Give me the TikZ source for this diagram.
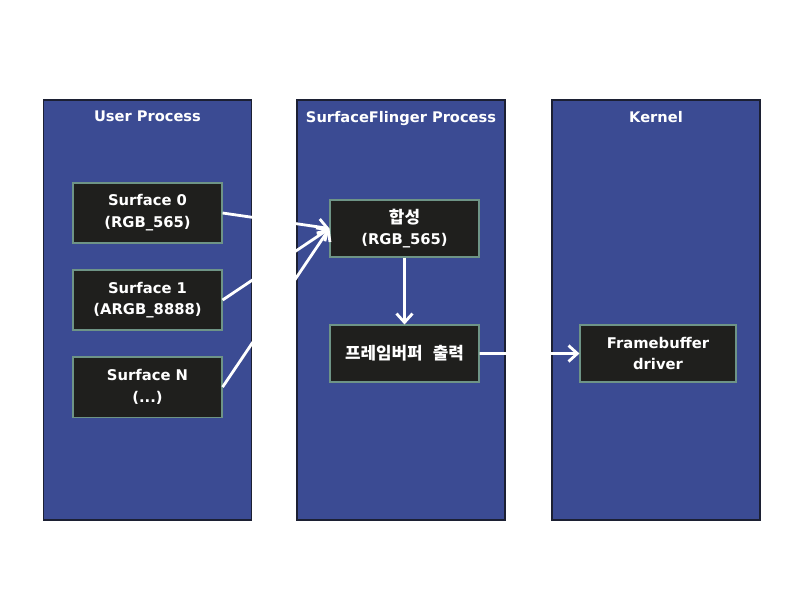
\documentclass[tikz,border=0pt]{standalone}
\usepackage{fontspec}
\setmainfont{DejaVu Sans}
\newfontfamily\kr{Noto Sans CJK KR Bold}
\usepackage{tikz}
\usetikzlibrary{positioning, arrows, arrows.meta}
\definecolor{panelblue}{HTML}{3B4B93}
\definecolor{panelline}{HTML}{1C2033}
\definecolor{boxfill}{HTML}{1F1F1D}
\definecolor{boxline}{HTML}{6E9486}
\tikzstyle{panel} = [rectangle, minimum width=5.2cm, minimum height=10.5cm, fill=panelblue, draw=panelline, line width=1pt]
\tikzstyle{title} = [text=white, font=\bfseries\fontsize{10.4}{12}\selectfont, inner sep=0pt]
\tikzstyle{block} = [rectangle, minimum width=3.725cm, minimum height=1.5cm, text centered, align=center, fill=boxfill, draw=boxline, line width=0.8pt, text=white, font=\bfseries\fontsize{10.5}{15.5}\selectfont]
\tikzstyle{arrow} = [white, line width=2pt, -{Straight Barb[length=2.2mm, width=4mm]}]

\begin{document}
\begin{tikzpicture}[x=0.025cm, y=-0.025cm, node distance=2.175cm]
   \useasboundingbox (0,0) rectangle (800,600);
   \node (user) [panel] at (147.5,310) {};
   \node (sf) [panel] at (401,310) {};
   \node (kernel) [panel] at (656,310) {};
   \node (ut) [title, below=0.29cm of user.north] {User Process};
   \node (st) [title, below=0.29cm of sf.north] {SurfaceFlinger Process};
   \node (kt) [title, below=0.29cm of kernel.north] {Kernel};
   \node (s0) [block] at (147.5,213) {Surface 0\\(RGB\_565)};
   \node (s1) [block, below of=s0] {Surface 1\\(ARGB\_8888)};
   \node (sn) [block, below of=s1] {Surface N\\(...)};
   \node (comp) [block, minimum height=1.425cm] at (404.5,228.5) {{\kr\fontsize{12}{15.5}\selectfont 합성}\\(RGB\_565)};
   \node (out) [block, minimum height=1.425cm, below of=comp, yshift=-0.95cm] {\kr\fontsize{12}{15.5}\selectfont 프레임버퍼\hspace{0.6em}출력};
   \node (fb) [block, minimum width=3.9cm, minimum height=1.425cm] at (658,353.5) {Framebuffer\\driver};
   \draw [arrow] (s0.east) -- (comp.west);
   \draw [arrow] (s1.east) -- (comp.west);
   \draw [arrow] (sn.east) -- (comp.west);
   \draw [arrow] (comp) -- (out);
   \draw [arrow] (out) -- (fb);
\end{tikzpicture}
\end{document}
